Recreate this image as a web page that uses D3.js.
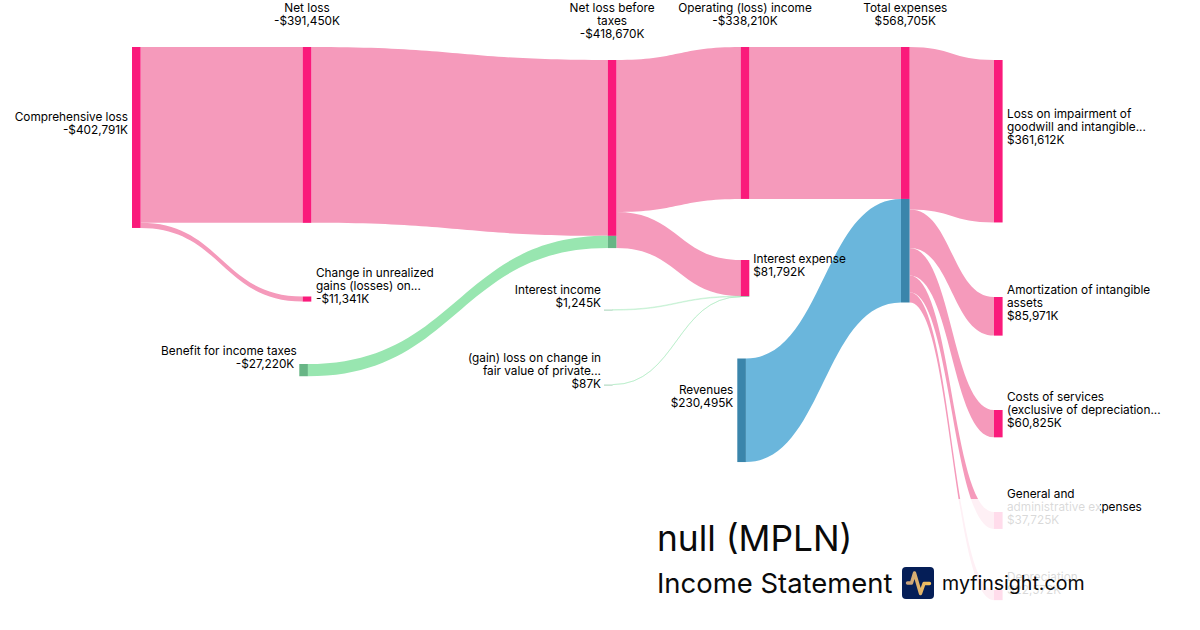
<!DOCTYPE html>
<html>
<head>
<meta charset="utf-8">
<script src="https://cdn.jsdelivr.net/npm/d3@7"></script>
<style>
  html, body { margin: 0; padding: 0; background: #fff; }
  svg { display: block; font-family: Inter, sans-serif; }
</style>
</head>
<body>
<svg id="chart" width="1200" height="630"></svg>
<script>
// income statement flows, in $K
const nodeNames = [
  "Comprehensive loss", "Net loss", "Change in unrealized", "Benefit for income taxes",
  "Net loss before taxes", "Interest income", "gain loss", "Operating (loss) income",
  "Interest expense", "Revenues", "Total expenses", "Loss on impairment",
  "Amortization", "Costs of services", "General and administrative", "Depreciation"
];
const nodeValues = [
  -402791, -391450, -11341, -27220,
  -418670, 1245, 87, -338210,
  81792, 230495, 568705, 361612,
  85971, 60825, 37725, 22572
];
const nodeLabels = [
  ["Comprehensive loss", "-$402,791K"],
  ["Net loss", "-$391,450K"],
  ["Change in unrealized", "gains (losses) on...", "-$11,341K"],
  ["Benefit for income taxes", "-$27,220K"],
  ["Net loss before", "taxes", "-$418,670K"],
  ["Interest income", "$1,245K"],
  ["(gain) loss on change in", "fair value of private...", "$87K"],
  ["Operating (loss) income", "-$338,210K"],
  ["Interest expense", "$81,792K"],
  ["Revenues", "$230,495K"],
  ["Total expenses", "$568,705K"],
  ["Loss on impairment of", "goodwill and intangible...", "$361,612K"],
  ["Amortization of intangible", "assets", "$85,971K"],
  ["Costs of services", "(exclusive of depreciation...", "$60,825K"],
  ["General and", "administrative expenses", "$37,725K"],
  ["Depreciation", "$22,572K"]
];
// source, target, value, kind
const linkSources = [0, 0, 1, 3, 4, 4, 5, 6, 7, 9, 10, 10, 10, 10, 10];
const linkTargets = [1, 2, 4, 4, 7, 8, 8, 8, 10, 10, 11, 12, 13, 14, 15];
const linkValues = [391450, 11341, 391450, 27220, 338210, 80460, 1245, 87, 338210, 230495, 361612, 85971, 60825, 37725, 22572];
const linkKinds = ["loss", "loss", "loss", "gain", "loss", "loss", "gain", "gain", "loss", "rev", "loss", "loss", "loss", "loss", "loss"];

// layout
const nodeColumn = [0, 1, 1, 1, 2, 2, 2, 3, 3, 3, 4, 5, 5, 5, 5, 5];
const columnX = [132, 302.7, 607.8, 740.7, 901, 994];
const nodeShift = [0, 0, 0, -3.4, 0, -3.8, -3.8, 0, 0, -3.4, 0, 0, 0, 0, 0, 0];
const nodeTop = [47, 47, 296.5, 364, 60, 309.6, 384.6, 47, 260, 358.5, 47, 60, 297, 410, 512, 590];
const labelSide = ["left", "top", "right", "left", "top", "left", "left", "top", "right", "left", "top", "right", "right", "right", "right", "right"];
const labelMiddle = [123.5, 0, 286, 357, 0, 296, 371, 0, 265, 396, 0, 127, 303, 410, 507, 583.5];
const labelGap = [4, 0, 4.7, 2.5, 0, 3, 3, 0, 4, 4, 0, 4.4, 4.4, 4.4, 4.4, 4.4];
const nodeWidth = 8.6;
const topLabelBaseline = 12;
const thinLink = 1;

const linkColor = d3.scaleOrdinal().domain(["loss", "gain", "rev"]).range(["#f59abb", "#98e6b0", "#6ab6dc"]);
const nodeColor = d3.scaleOrdinal().domain(["loss", "gain", "rev"]).range(["#fa1a7b", "#67b585", "#3a85ab"]);

const svg = d3.select("#chart");

// value to pixel thickness
const thickness = d3.scaleLinear().domain([0, 568705]).range([0, 255.5]);
const xCol = d3.scaleOrdinal().domain(d3.range(columnX.length)).range(columnX);

const nodes = nodeNames.map((name, i) => ({
  name,
  i,
  value: nodeValues[i],
  x0: xCol(nodeColumn[i]) + nodeShift[i],
  x1: xCol(nodeColumn[i]) + nodeShift[i] + nodeWidth,
  y0: nodeTop[i],
  y1: nodeTop[i] + thickness(Math.abs(nodeValues[i])),
  outY: nodeTop[i],
  inY: nodeTop[i]
}));

const links = linkValues.map((value, i) => {
  const s = nodes[linkSources[i]];
  const t = nodes[linkTargets[i]];
  const w = thickness(value);
  const l = { s, t, w, kind: linkKinds[i], sy: s.outY, ty: t.inY };
  s.outY += w;
  t.inY += w;
  return l;
});

// filled ribbon, constant vertical thickness
function ribbon(d) {
  const x0 = d.s.x1, x1 = d.t.x0, xm = (x0 + x1) / 2;
  const p = d3.path();
  p.moveTo(x0, d.sy);
  p.bezierCurveTo(xm, d.sy, xm, d.ty, x1, d.ty);
  p.lineTo(x1, d.ty + d.w);
  p.bezierCurveTo(xm, d.ty + d.w, xm, d.sy + d.w, x0, d.sy + d.w);
  p.closePath();
  return p.toString();
}

// the tiny flows still get a hairline so they stay visible
svg.append("g")
  .selectAll("path")
  .data(links)
  .join("path")
  .attr("d", ribbon)
  .attr("fill", d => d.w < thinLink ? "none" : linkColor(d.kind))
  .attr("stroke", d => d.w < thinLink ? linkColor(d.kind) : "none")
  .attr("stroke-width", 0.4);

// nodes are split by what flows into them
const segments = [];
nodes.forEach(n => {
  const incoming = links.filter(l => l.t === n);
  if (incoming.length === 0) {
    const outgoing = links.filter(l => l.s === n);
    segments.push({ n, y: n.y0, h: n.y1 - n.y0, kind: outgoing[0].kind });
  } else {
    incoming.forEach(l => segments.push({ n, y: l.ty, h: l.w, kind: l.kind }));
  }
});

svg.append("g")
  .selectAll("rect")
  .data(segments)
  .join("rect")
  .attr("x", d => d.n.x0)
  .attr("y", d => d.y)
  .attr("width", nodeWidth)
  .attr("height", d => d.h < thinLink && d.n.i < 7 ? thinLink : d.h)
  .attr("fill", d => nodeColor(d.kind))
  .attr("fill-opacity", d => d.h < thinLink && d.n.i < 7 ? 0.6 : 1);

// labels
const lineHeight = 13;
const labels = svg.append("g").attr("font-size", 11.8).attr("fill", "#000");
nodes.forEach((n, i) => {
  const lines = nodeLabels[i];
  const side = labelSide[i];
  let x, anchor, firstY;
  if (side === "top") {
    x = n.x0 + nodeWidth / 2;
    anchor = "middle";
    firstY = topLabelBaseline;
  } else {
    x = side === "left" ? n.x0 - labelGap[i] : n.x1 + labelGap[i];
    anchor = side === "left" ? "end" : "start";
    firstY = labelMiddle[i] - (lines.length - 1) * lineHeight / 2 + 4;
  }
  const t = labels.append("text").attr("text-anchor", anchor);
  lines.forEach((line, j) => {
    // the tax benefit amount sits a little left of its name in the original
    const nudge = n.name === "Benefit for income taxes" && j === 1 ? -2.5 : 0;
    t.append("tspan").attr("x", x + nudge).attr("y", firstY + j * lineHeight).text(line);
  });
});

// watermark panel sits on top of the chart
svg.append("rect")
  .attr("x", 645).attr("y", 499).attr("width", 455).attr("height", 131)
  .attr("fill", "#fff").attr("fill-opacity", 0.85);

svg.append("text").attr("x", 657).attr("y", 551)
  .attr("font-size", 35.3).attr("fill", "#0a0a0a").text("null (MPLN)");
svg.append("text").attr("x", 657).attr("y", 593)
  .attr("font-size", 27.45).attr("fill", "#0a0a0a").text("Income Statement");
svg.append("text").attr("x", 942).attr("y", 590)
  .attr("font-size", 19.6).attr("fill", "#0a0a0a").text("myfinsight.com");

// logo
const logo = svg.append("g").attr("transform", "translate(902,567)");
const grad = svg.append("defs").append("linearGradient").attr("id", "pulse");
grad.append("stop").attr("offset", "0%").attr("stop-color", "#c9a37c");
grad.append("stop").attr("offset", "100%").attr("stop-color", "#f5c15c");
logo.append("rect").attr("width", 32).attr("height", 32).attr("rx", 4).attr("fill", "#051e57");
logo.append("path")
  .attr("d", d3.line()([[5.5, 16], [9.5, 16], [12.5, 6], [18.5, 26.5], [22, 16.5], [27.5, 16.5]]))
  .attr("fill", "none").attr("stroke", "url(#pulse)").attr("stroke-width", 3.4)
  .attr("stroke-linecap", "round").attr("stroke-linejoin", "round");
</script>
</body>
</html>
